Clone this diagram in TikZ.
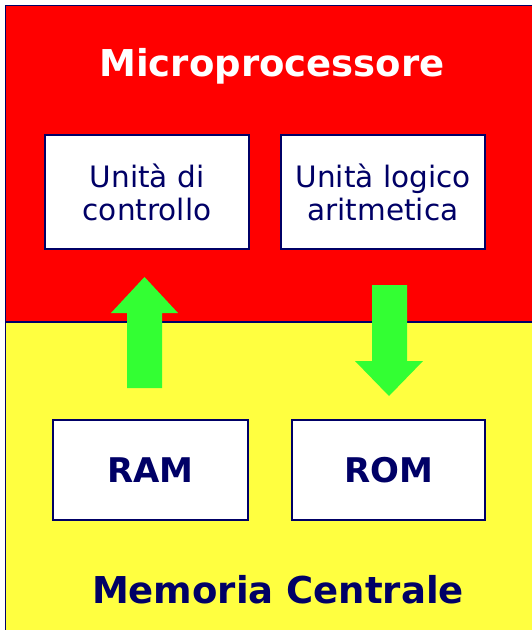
\documentclass[tikz,border=0pt]{standalone}
\usepackage{fontspec}
\setmainfont{DejaVu Sans}
\usetikzlibrary{positioning}
\definecolor{mred}{RGB}{255, 0, 0}
\definecolor{myellow}{RGB}{255, 255, 64}
\definecolor{mgreen}{RGB}{51, 255, 51}
\definecolor{mnavy}{RGB}{0, 0, 102}
\tikzset{unitbox/.style = {draw=mnavy, line width=1.2pt, fill=white, text=mnavy,
                           align=center, inner sep=0}}
\tikzset{title/.style = {anchor=base, font=\fontsize{37}{40}\selectfont\bfseries}}
\tikzset{blockarrow/.style = {fill=mgreen}}

\begin{document}
\begin{tikzpicture}[x=1pt, y=-1pt]
    \useasboundingbox (0, 0) rectangle (532, 630);
    \clip (0, 0) rectangle (532, 630);
    \fill [white] (0, 0) rectangle (532, 630);

    \fill [mred] (5.5, 5.5) rectangle (540, 322);
    \fill [myellow] (5.5, 322) rectangle (540, 640);
    \draw [mnavy, line width=1.5pt] (5.5, 640) -- (5.5, 5.5) -- (540, 5.5);
    \draw [mnavy, line width=1.5pt] (5.5, 322) -- (540, 322);

    \node [title, text=white] (cpu) at (272, 76) {Microprocessore};
    \node [title, text=mnavy] (mem) at (278, 603) {Memoria Centrale};

    \node [unitbox, minimum width=204pt, minimum height=114pt,
           font=\fontsize{29.5}{33}\selectfont] (cu) at (147, 192) {Unità di\\controllo};
    \node [unitbox, minimum width=204pt, minimum height=114pt,
           font=\fontsize{29.5}{33}\selectfont] (alu) at (383, 192) {Unità logico\\aritmetica};

    \node [unitbox, minimum width=195pt, minimum height=100pt,
           font=\fontsize{34}{36}\selectfont\bfseries] (ram) at (150.5, 470) {RAM};
    \node [unitbox, minimum width=193pt, minimum height=100pt,
           font=\fontsize{34}{36}\selectfont\bfseries] (rom) at (388.5, 470) {ROM};

    \fill [blockarrow] (127, 388) -- (162, 388) -- (162, 313) -- (178, 313)
                       -- (144.5, 277) -- (111, 313) -- (127, 313) -- cycle;
    \fill [blockarrow] (372, 285) -- (407, 285) -- (407, 361) -- (423, 361)
                       -- (389, 396) -- (355, 361) -- (372, 361) -- cycle;
\end{tikzpicture}
\end{document}
